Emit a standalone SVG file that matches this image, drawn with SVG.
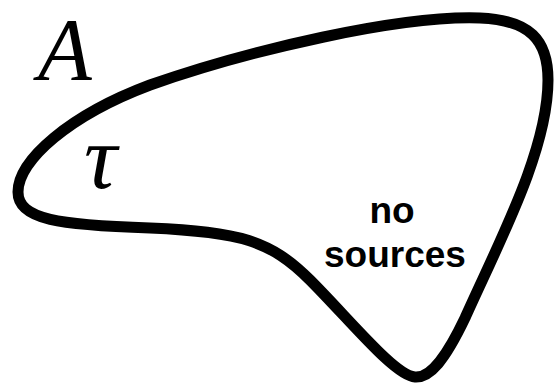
<svg xmlns="http://www.w3.org/2000/svg" width="559" height="390" viewBox="0 0 559 390">
<style>
.blob{fill:none;stroke:#000;stroke-width:11;stroke-linejoin:round}
.math{font-family:"Liberation Serif","DejaVu Serif",serif;font-style:italic;fill:#000}
.lbl{font-family:"Liberation Sans",Arial,sans-serif;font-weight:bold;font-size:37px;fill:#000;text-anchor:middle}
</style>
<rect width="559" height="390" fill="#fff"/>
<g id="region">
<path class="blob" d="M 18 192 C 18 160, 70 115, 150 85 C 250 50, 400 15, 480 18 C 530 20, 548 40, 548 80 C 548 150, 500 240, 465 318 C 445 360, 430 378, 415 377 C 395 376, 350 320, 310 280 C 270 240, 240 232, 150 228 C 60 225, 18 220, 18 192 Z"/>
</g>
<g id="label-A"><text class="math" x="38" y="79" font-size="88">A</text></g>
<g id="label-tau"><text class="math" x="84" y="188" font-size="92">τ</text></g>
<g id="label-nosources">
<text class="lbl" x="392" y="223">no</text>
<text class="lbl" x="395" y="267">sources</text>
</g>
</svg>
